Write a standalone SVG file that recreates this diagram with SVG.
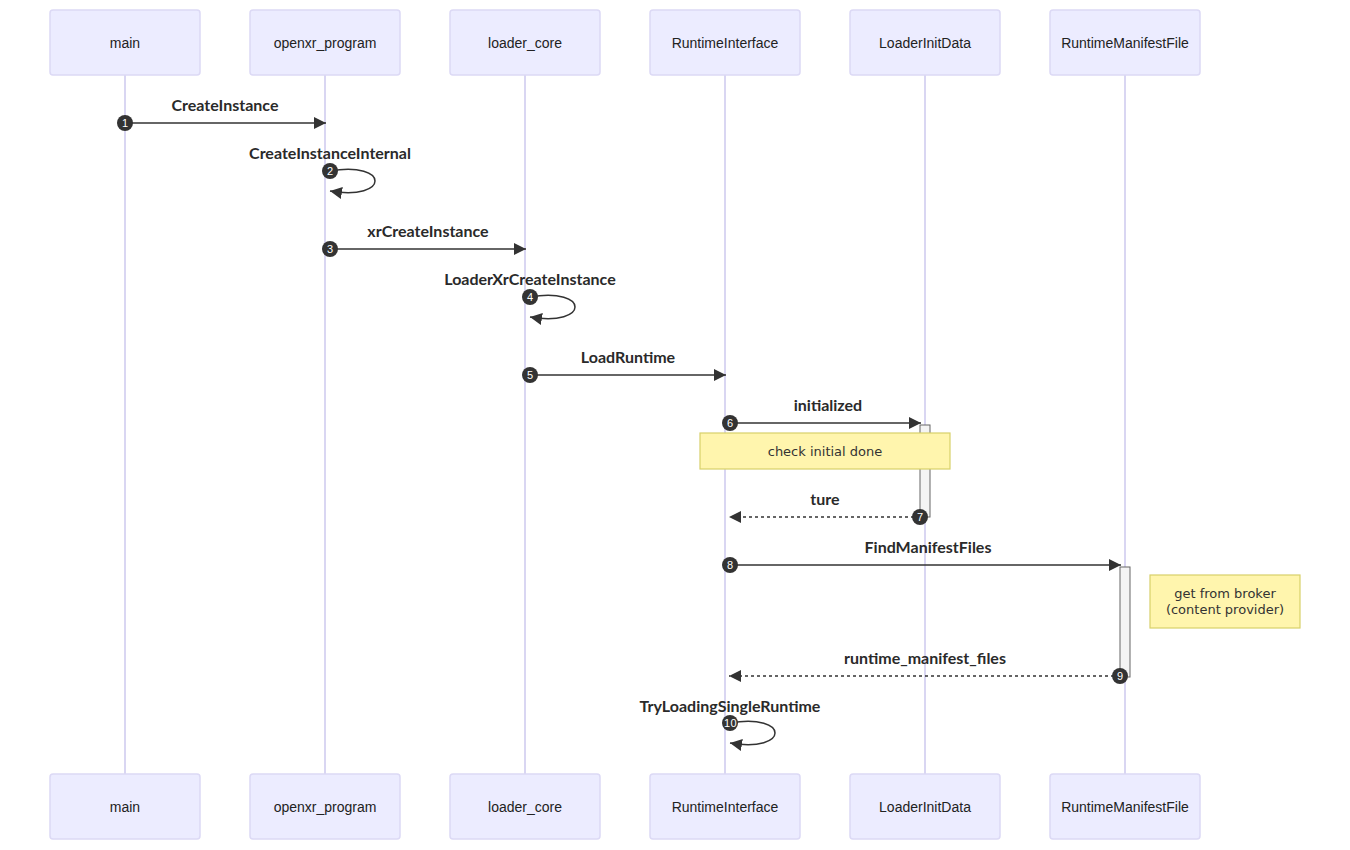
<svg xmlns="http://www.w3.org/2000/svg" width="1350" height="850" viewBox="0 0 1350 850">
<style>
.actor{fill:#ECECFF;stroke:#dcd9f5;stroke-width:1.5}
.atext{font-family:"Liberation Sans",Arial,sans-serif;font-size:14px;fill:#222;text-anchor:middle;dominant-baseline:central}
.life{stroke:#cdc9ee;stroke-width:1.5}
.msg{stroke:#333;stroke-width:1.5;fill:none}
.dash{stroke-dasharray:3,3}
.mtext{font-family:Lato,"Liberation Sans",sans-serif;font-weight:700;font-size:16px;fill:#2a2a2a;text-anchor:middle}
.num{fill:#333}
.ntext{font-family:"Liberation Sans",Arial,sans-serif;font-size:11px;fill:#fff;text-anchor:middle;dominant-baseline:central}
.act{fill:#f4f4f4;stroke:#666;stroke-width:1}
.note{fill:#fff5ad;stroke:#d8d06a;stroke-width:1.2}
.notetext{font-family:"DejaVu Sans",Verdana,sans-serif;font-size:13px;fill:#333;text-anchor:middle;dominant-baseline:central}
</style>
<defs>
<marker id="arrow" markerUnits="userSpaceOnUse" markerWidth="12" markerHeight="12" refX="10" refY="5" orient="auto" viewBox="0 0 10 10">
<path d="M0,0 L10,5 L0,10 z" fill="#333"/>
</marker>
</defs>
<rect width="1350" height="850" fill="#fff"/>

<g id="lifelines">
<line class="life" x1="125" y1="75" x2="125" y2="774"/>
<line class="life" x1="325" y1="75" x2="325" y2="774"/>
<line class="life" x1="525" y1="75" x2="525" y2="774"/>
<line class="life" x1="725" y1="75" x2="725" y2="774"/>
<line class="life" x1="925" y1="75" x2="925" y2="774"/>
<line class="life" x1="1125" y1="75" x2="1125" y2="774"/>
</g>

<g id="main">
<rect class="actor" x="50" y="10" width="150" height="65" rx="3"/>
<text class="atext" x="125" y="43">main</text>
<rect class="actor" x="50" y="774" width="150" height="65" rx="3"/>
<text class="atext" x="125" y="807">main</text>
</g>
<g id="openxr_program">
<rect class="actor" x="250" y="10" width="150" height="65" rx="3"/>
<text class="atext" x="325" y="43">openxr_program</text>
<rect class="actor" x="250" y="774" width="150" height="65" rx="3"/>
<text class="atext" x="325" y="807">openxr_program</text>
</g>
<g id="loader_core">
<rect class="actor" x="450" y="10" width="150" height="65" rx="3"/>
<text class="atext" x="525" y="43">loader_core</text>
<rect class="actor" x="450" y="774" width="150" height="65" rx="3"/>
<text class="atext" x="525" y="807">loader_core</text>
</g>
<g id="RuntimeInterface">
<rect class="actor" x="650" y="10" width="150" height="65" rx="3"/>
<text class="atext" x="725" y="43">RuntimeInterface</text>
<rect class="actor" x="650" y="774" width="150" height="65" rx="3"/>
<text class="atext" x="725" y="807">RuntimeInterface</text>
</g>
<g id="LoaderInitData">
<rect class="actor" x="850" y="10" width="150" height="65" rx="3"/>
<text class="atext" x="925" y="43">LoaderInitData</text>
<rect class="actor" x="850" y="774" width="150" height="65" rx="3"/>
<text class="atext" x="925" y="807">LoaderInitData</text>
</g>
<g id="RuntimeManifestFile">
<rect class="actor" x="1050" y="10" width="150" height="65" rx="3"/>
<text class="atext" x="1125" y="43">RuntimeManifestFile</text>
<rect class="actor" x="1050" y="774" width="150" height="65" rx="3"/>
<text class="atext" x="1125" y="807">RuntimeManifestFile</text>
</g>

<g id="activations">
<rect class="act" x="920" y="425" width="10" height="92"/>
<rect class="act" x="1120" y="567" width="10" height="110"/>
</g>

<g id="notes">
<g id="note1">
<rect class="note" x="700" y="433" width="250" height="36"/>
<text class="notetext" x="825" y="451">check initial done</text>
</g>
<g id="note2">
<rect class="note" x="1150" y="575" width="150" height="53"/>
<text class="notetext" x="1225" y="593">get from broker</text>
<text class="notetext" x="1225" y="609">(content provider)</text>
</g>
</g>

<g id="connectors">
<line class="msg" x1="125" y1="123" x2="326" y2="123" marker-end="url(#arrow)"/>
<text class="mtext" x="225" y="111">CreateInstance</text>

<path class="msg" d="M330,171 C390,161 390,201 330,191" marker-end="url(#arrow)"/>
<text class="mtext" x="330" y="159">CreateInstanceInternal</text>

<line class="msg" x1="325" y1="249" x2="526" y2="249" marker-end="url(#arrow)"/>
<text class="mtext" x="428" y="237">xrCreateInstance</text>

<path class="msg" d="M530,297 C590,287 590,327 530,317" marker-end="url(#arrow)"/>
<text class="mtext" x="530" y="285">LoaderXrCreateInstance</text>

<line class="msg" x1="525" y1="375" x2="726" y2="375" marker-end="url(#arrow)"/>
<text class="mtext" x="628" y="363">LoadRuntime</text>

<line class="msg" x1="725" y1="423" x2="921" y2="423" marker-end="url(#arrow)"/>
<text class="mtext" x="828" y="411">initialized</text>

<line class="msg dash" x1="920" y1="517" x2="729" y2="517" marker-end="url(#arrow)"/>
<text class="mtext" x="825" y="505">ture</text>

<line class="msg" x1="725" y1="565" x2="1121" y2="565" marker-end="url(#arrow)"/>
<text class="mtext" x="928" y="553">FindManifestFiles</text>

<line class="msg dash" x1="1120" y1="676" x2="729" y2="676" marker-end="url(#arrow)"/>
<text class="mtext" x="925" y="664">runtime_manifest_files</text>

<path class="msg" d="M730,723 C790,713 790,753 730,743" marker-end="url(#arrow)"/>
<text class="mtext" x="730" y="712">TryLoadingSingleRuntime</text>

<g id="numbers">
<circle class="num" cx="125" cy="123" r="8"/><text class="ntext" x="125" y="123">1</text>
<circle class="num" cx="330" cy="171" r="8"/><text class="ntext" x="330" y="171">2</text>
<circle class="num" cx="330" cy="249" r="8"/><text class="ntext" x="330" y="249">3</text>
<circle class="num" cx="530" cy="297" r="8"/><text class="ntext" x="530" y="297">4</text>
<circle class="num" cx="530" cy="375" r="8"/><text class="ntext" x="530" y="375">5</text>
<circle class="num" cx="730" cy="423" r="8"/><text class="ntext" x="730" y="423">6</text>
<circle class="num" cx="920" cy="517" r="8"/><text class="ntext" x="920" y="517">7</text>
<circle class="num" cx="730" cy="565" r="8"/><text class="ntext" x="730" y="565">8</text>
<circle class="num" cx="1120" cy="676" r="8"/><text class="ntext" x="1120" y="676">9</text>
<circle class="num" cx="730" cy="723" r="8"/><text class="ntext" x="730.5" y="723" font-size="10" letter-spacing="0.5">10</text>
</g>
</g>
</svg>
